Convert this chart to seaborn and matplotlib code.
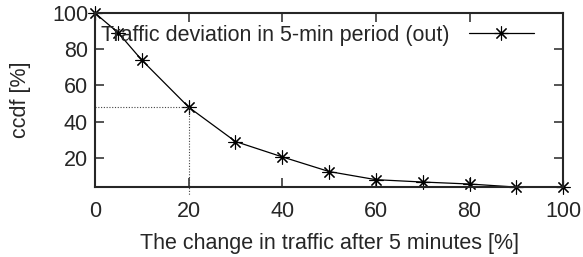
import numpy as np
import pandas as pd
import matplotlib
matplotlib.use('Agg')
import matplotlib.pyplot as plt
import seaborn as sns

# values
change = [0, 5, 10, 20, 30, 40, 50, 60, 70, 80, 90, 100]
ccdf = [100, 89, 74, 48, 29, 20.5, 12.4, 7.9, 6.6, 5.5, 3.8, 3.8]
mark_x = 20
mark_y = 48
label = 'Traffic deviation in 5-min period (out)'

data = pd.DataFrame({'change': change, 'ccdf': ccdf})

sns.set_style('ticks')
plt.rcParams['font.family'] = ['Liberation Sans', 'DejaVu Sans']

fig = plt.figure(figsize=(5.83, 2.57), dpi=100)
ax = fig.add_axes([0.163, 0.272, 0.803, 0.677])

sns.lineplot(data=data, x='change', y='ccdf', ax=ax, color='black', linewidth=0.9,
             marker=(8, 2, 0), markersize=10, markeredgewidth=0.8,
             markeredgecolor='black', label=label, clip_on=False)

# dotted guide lines at the 20% point
ax.plot([0, mark_x], [mark_y, mark_y], color='#444444', linestyle=(0, (1, 1.5)), linewidth=0.8)
ax.plot([mark_x, mark_x], [mark_y, -0.5], color='#444444', linestyle=(0, (1, 1.5)),
        linewidth=0.8, clip_on=False)

ax.set_xlim(0, 100)
ax.set_ylim(3.8, 100)
ax.set_xticks([0, 20, 40, 60, 80, 100])
ax.set_yticks([20, 40, 60, 80, 100])
ax.tick_params(direction='in', top=True, right=True, labelsize=15.5, length=6.5, width=1.1, pad=10)
ax.tick_params(axis='y', pad=5)
for s in ax.spines.values():
    s.set_linewidth(1.5)

ax.set_xlabel('The change in traffic after 5 minutes [%]', fontsize=15.5, labelpad=8)
ax.set_ylabel('ccdf [%]', fontsize=15.5, labelpad=15)

ax.legend(loc='upper right', bbox_to_anchor=(0.96, 0.995), frameon=False, markerfirst=False,
          fontsize=15.5, handlelength=3.0, borderaxespad=0.1, handletextpad=0.9)

fig.savefig('out.png', dpi=100)
